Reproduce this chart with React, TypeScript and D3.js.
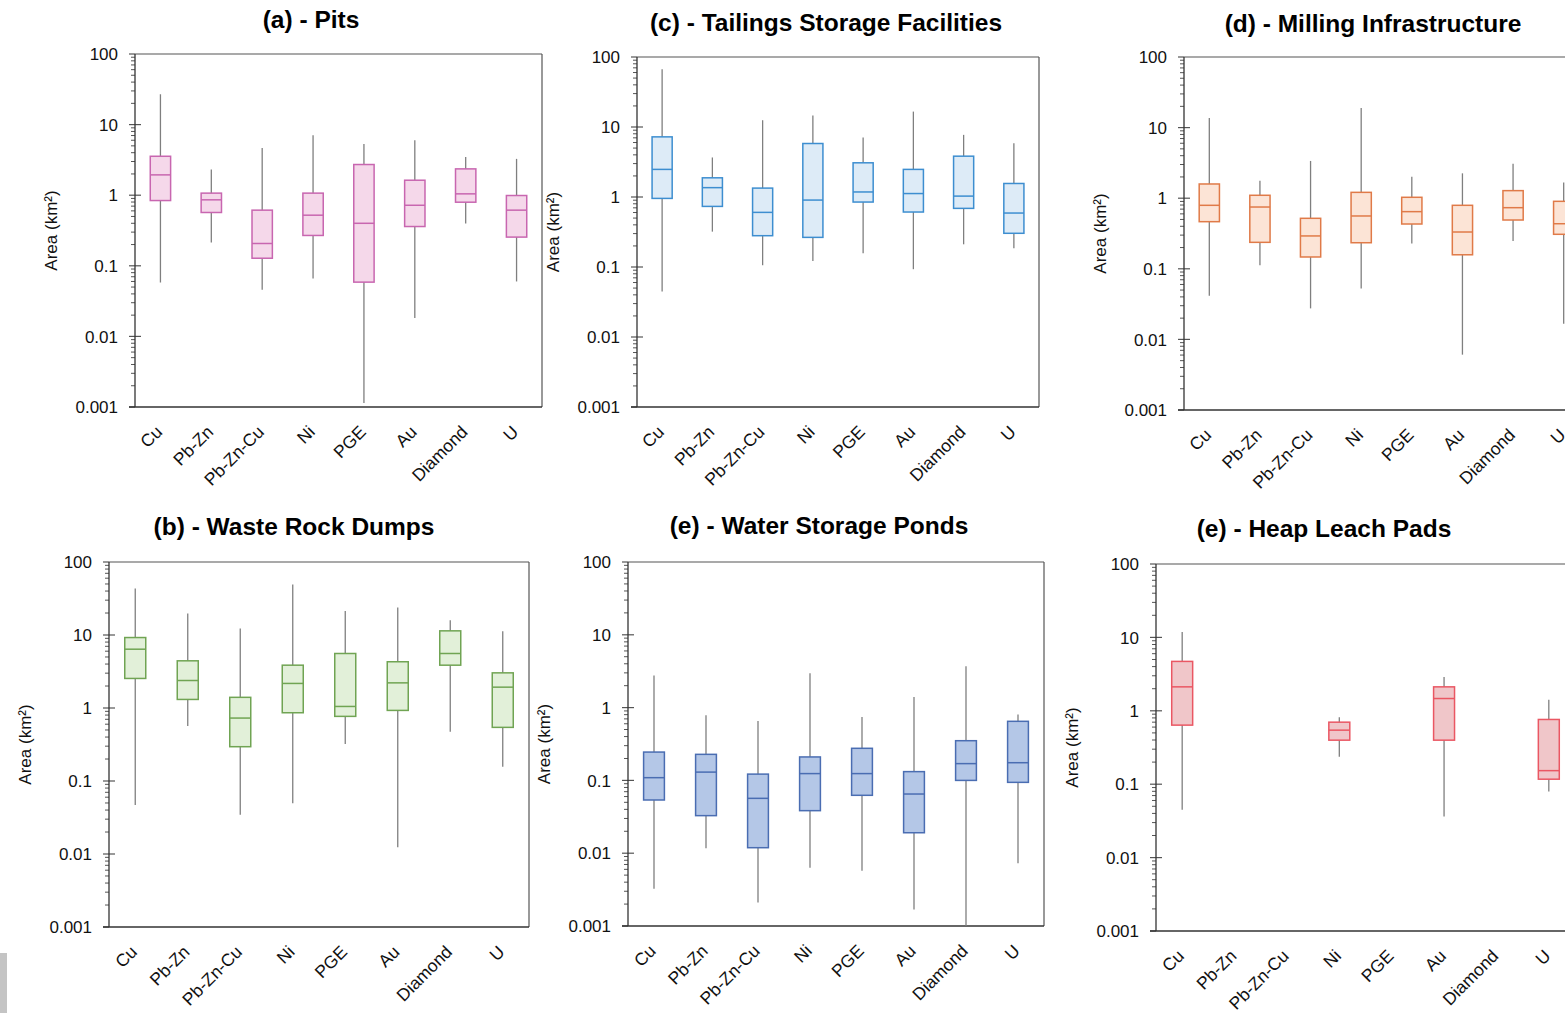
import React from "react";
import * as d3 from "d3";

const categories = ["Cu", "Pb-Zn", "Pb-Zn-Cu", "Ni", "PGE", "Au", "Diamond", "U"];
const yTickValues = [100, 10, 1, 0.1, 0.01, 0.001];
const yTickLabels = ["100", "10", "1", "0.1", "0.01", "0.001"];

// [whisker low, q1, median, q3, whisker high]
type Stat = [number, number, number, number, number] | null;

const pitsStats: Stat[] = [
  [0.058, 0.84, 1.94, 3.56, 26.9],
  [0.214, 0.569, 0.86, 1.07, 2.31],
  [0.0457, 0.128, 0.207, 0.614, 4.67],
  [0.066, 0.269, 0.521, 1.07, 7.06],
  [0.00114, 0.0587, 0.4, 2.72, 5.32],
  [0.0182, 0.36, 0.72, 1.63, 6.0],
  [0.397, 0.796, 1.045, 2.36, 3.48],
  [0.06, 0.255, 0.614, 0.99, 3.27],
];

const tailingsStats: Stat[] = [
  [0.0446, 0.955, 2.48, 7.23, 66.7],
  [0.32, 0.734, 1.36, 1.88, 3.67],
  [0.106, 0.28, 0.603, 1.34, 12.5],
  [0.122, 0.265, 0.904, 5.81, 14.6],
  [0.157, 0.847, 1.18, 3.08, 7.07],
  [0.093, 0.61, 1.12, 2.48, 16.6],
  [0.211, 0.688, 1.03, 3.83, 7.72],
  [0.185, 0.303, 0.59, 1.56, 5.88],
];

const millingStats: Stat[] = [
  [0.0416, 0.465, 0.793, 1.59, 13.7],
  [0.112, 0.237, 0.75, 1.1, 1.77],
  [0.0275, 0.147, 0.292, 0.519, 3.37],
  [0.0528, 0.234, 0.56, 1.21, 18.9],
  [0.229, 0.431, 0.645, 1.03, 2.02],
  [0.00608, 0.158, 0.332, 0.793, 2.25],
  [0.248, 0.491, 0.734, 1.28, 3.08],
  [0.0167, 0.308, 0.435, 0.903, 1.67],
];

const wasteStats: Stat[] = [
  [0.047, 2.54, 6.39, 9.23, 43.2],
  [0.566, 1.31, 2.38, 4.43, 19.7],
  [0.0344, 0.295, 0.728, 1.4, 12.3],
  [0.0496, 0.861, 2.17, 3.86, 49],
  [0.321, 0.768, 1.05, 5.58, 21.4],
  [0.0124, 0.927, 2.21, 4.3, 23.8],
  [0.473, 3.86, 5.58, 11.4, 15.9],
  [0.157, 0.543, 1.93, 3.03, 11.3],
];

const waterStats: Stat[] = [
  [0.00326, 0.0538, 0.109, 0.245, 2.75],
  [0.0117, 0.0328, 0.13, 0.228, 0.783],
  [0.0021, 0.0119, 0.0567, 0.122, 0.655],
  [0.00633, 0.0384, 0.124, 0.21, 2.96],
  [0.00575, 0.0624, 0.124, 0.276, 0.743],
  [0.00168, 0.0191, 0.065, 0.132, 1.4],
  [0.001, 0.1, 0.17, 0.351, 3.69],
  [0.00726, 0.094, 0.175, 0.648, 0.807],
];

const heapStats: Stat[] = [
  [0.0447, 0.638, 2.12, 4.71, 11.8],
  null,
  null,
  [0.236, 0.398, 0.545, 0.7, 0.82],
  null,
  [0.0362, 0.398, 1.47, 2.12, 2.88],
  null,
  [0.0794, 0.117, 0.153, 0.762, 1.41],
];

const FONT = "'Liberation Sans', Arial, Helvetica, sans-serif";

interface PanelProps {
  title: string;
  stats: Stat[];
  left: number;
  right: number;
  top: number;
  bottom: number;
  titleX: number;
  titleY: number;
  fill: string;
  stroke: string;
}

const panels: PanelProps[] = [
  { title: "(a) - Pits", stats: pitsStats, left: 135, right: 542, top: 54, bottom: 407, titleX: 311, titleY: 28, fill: "#f5d8ea", stroke: "#c866b0" },
  { title: "(c) - Tailings Storage Facilities", stats: tailingsStats, left: 637, right: 1039, top: 57, bottom: 407, titleX: 826, titleY: 31, fill: "#ddebf7", stroke: "#3d8ed0" },
  { title: "(d) - Milling Infrastructure", stats: millingStats, left: 1184, right: 1589, top: 57, bottom: 410, titleX: 1373, titleY: 32, fill: "#fce4d6", stroke: "#e07a48" },
  { title: "(b) - Waste Rock Dumps", stats: wasteStats, left: 109, right: 529, top: 562, bottom: 927, titleX: 294, titleY: 535, fill: "#e2f0d9", stroke: "#70a453" },
  { title: "(e) - Water Storage Ponds", stats: waterStats, left: 628, right: 1044, top: 562, bottom: 926, titleX: 819, titleY: 534, fill: "#b4c7e7", stroke: "#4a6db2" },
  { title: "(e) - Heap Leach Pads", stats: heapStats, left: 1156, right: 1575, top: 564, bottom: 931, titleX: 1324, titleY: 537, fill: "#f0c6c9", stroke: "#ea5763" },
];

function Panel(p: PanelProps) {
  const y = d3.scaleLog().domain([0.001, 100]).range([p.bottom, p.top]);
  const x = d3.scaleBand<string>().domain(categories).range([p.left, p.right]).padding(0);
  const bw = x.bandwidth();
  const boxW = bw * 0.4;
  const minor: number[] = [];
  for (let e = -3; e < 2; e++) {
    for (let m = 2; m <= 9; m++) minor.push(m * Math.pow(10, e));
  }
  const midY = (p.top + p.bottom) / 2;
  return (
    <g>
      <text x={p.titleX} y={p.titleY} textAnchor="middle" fontFamily={FONT} fontWeight="bold" fontSize={24.5} fill="#000">
        {p.title}
      </text>
      <line x1={p.left} x2={p.right} y1={p.top} y2={p.top} stroke="#555" strokeWidth={1.2} />
      <line x1={p.right} x2={p.right} y1={p.top} y2={p.bottom} stroke="#555" strokeWidth={1.2} />
      {minor.map((v, i) => (
        <line key={"m" + i} x1={p.left - 4} x2={p.left} y1={y(v)} y2={y(v)} stroke="#555" strokeWidth={1} />
      ))}
      {yTickValues.map((v, i) => (
        <g key={"t" + i}>
          <line x1={p.left - 6} x2={v === 100 || v === 0.001 ? p.left : p.left + 6} y1={y(v)} y2={y(v)} stroke="#555" strokeWidth={1.2} />
          <text x={p.left - 17} y={y(v)} dy="0.36em" textAnchor="end" fontFamily={FONT} fontSize={17} fill="#111">
            {yTickLabels[i]}
          </text>
        </g>
      ))}
      <line x1={p.left} x2={p.left} y1={p.top} y2={p.bottom} stroke="#333" strokeWidth={1.3} />
      <line x1={p.left - 6} x2={p.right} y1={p.bottom} y2={p.bottom} stroke="#333" strokeWidth={1.3} />
      <text transform={`translate(${p.left - 78},${midY}) rotate(-90)`} textAnchor="middle" fontFamily={FONT} fontSize={17} fill="#111">
        Area (km²)
      </text>
      {categories.map((c) => {
        const cx = (x(c) as number) + bw / 2;
        return (
          <text key={c} transform={`translate(${cx + 3},${p.bottom + 26}) rotate(-45)`} textAnchor="end" fontFamily={FONT} fontSize={17.5} fill="#111">
            {c}
          </text>
        );
      })}
      {p.stats.map((s, i) => {
        if (!s) return null;
        const cx = (x(categories[i]) as number) + bw / 2;
        const [lo, q1, med, q3, hi] = s;
        return (
          <g key={"b" + i}>
            <line x1={cx} x2={cx} y1={y(lo)} y2={y(hi)} stroke="#7f7f7f" strokeWidth={1.3} />
            <rect x={cx - boxW / 2} y={y(q3)} width={boxW} height={y(q1) - y(q3)} fill={p.fill} stroke={p.stroke} strokeWidth={1.5} />
            <line x1={cx - boxW / 2} x2={cx + boxW / 2} y1={y(med)} y2={y(med)} stroke={p.stroke} strokeWidth={1.5} />
          </g>
        );
      })}
    </g>
  );
}

export default function App() {
  return (
    <svg
      width={1565}
      height={1013}
      viewBox="0 0 1565 1013"
      style={{ position: "absolute", left: 0, top: 0, background: "#fff", overflow: "hidden" }}
    >
      <rect x={0} y={0} width={1565} height={1013} fill="#fff" />
      {panels.map((p, i) => (
        <Panel key={i} {...p} />
      ))}
      <rect x={0} y={953} width={7} height={60} fill="#c4c4c4" />
    </svg>
  );
}
